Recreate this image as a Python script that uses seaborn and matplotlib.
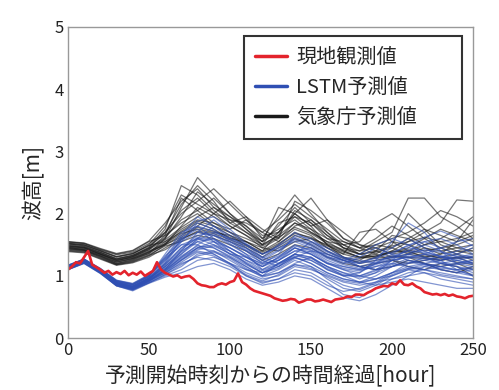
import matplotlib
matplotlib.use("Agg")
import matplotlib.pyplot as plt
from matplotlib.lines import Line2D
import numpy as np
import pandas as pd
import seaborn as sns

sns.set_theme(style="white")
plt.rcParams["font.family"] = ["Noto Sans CJK JP", "DejaVu Sans"]

# forecast grid (hours since forecast start)
hours = list(range(0, 251, 10))
obs_hours = [i * 2.5 for i in range(101)]

# observed wave height [m], every 2.5 h
observed = [1.10, 1.15, 1.22, 1.20, 1.30, 1.40, 1.18, 1.14, 1.10, 1.05,
            1.08, 1.02, 1.06, 1.03, 1.08, 1.01, 1.05, 1.02, 1.07, 1.00,
            1.04, 1.08, 1.22, 1.10, 1.05, 1.02, 0.99, 1.01, 0.97, 0.99,
            1.00, 0.95, 0.88, 0.85, 0.84, 0.82, 0.82, 0.86, 0.88, 0.86,
            0.90, 0.92, 1.04, 0.90, 0.86, 0.80, 0.76, 0.74, 0.72, 0.70,
            0.68, 0.64, 0.62, 0.60, 0.61, 0.63, 0.62, 0.57, 0.59, 0.62,
            0.62, 0.59, 0.60, 0.62, 0.60, 0.58, 0.62, 0.63, 0.64, 0.67,
            0.66, 0.70, 0.70, 0.69, 0.73, 0.76, 0.80, 0.82, 0.84, 0.83,
            0.88, 0.86, 0.93, 0.86, 0.85, 0.88, 0.83, 0.80, 0.74, 0.72,
            0.70, 0.71, 0.69, 0.71, 0.68, 0.70, 0.67, 0.66, 0.64, 0.67,
            0.68]

# JMA forecast runs
jma_runs = [
    [1.52, 1.48, 1.38, 1.28, 1.33, 1.46, 1.75, 2.45, 2.30, 2.05, 1.85, 1.70, 1.55, 1.80, 2.10, 1.85, 1.60, 1.45, 1.40, 1.55, 1.70, 2.25, 2.25, 1.95, 1.80, 1.60],
    [1.44, 1.42, 1.32, 1.20, 1.25, 1.36, 1.60, 2.10, 2.58, 2.30, 2.00, 1.80, 1.60, 1.95, 2.30, 2.00, 1.70, 1.50, 1.35, 1.30, 1.40, 1.55, 1.70, 1.85, 2.22, 2.20],
    [1.55, 1.52, 1.42, 1.34, 1.38, 1.52, 1.70, 2.00, 2.20, 2.40, 2.15, 1.90, 1.65, 1.70, 2.00, 2.25, 1.90, 1.60, 1.50, 1.45, 1.35, 1.40, 1.50, 1.55, 1.60, 1.70],
    [1.40, 1.38, 1.28, 1.18, 1.22, 1.32, 1.50, 1.80, 2.10, 1.95, 1.80, 1.65, 1.45, 1.60, 1.85, 1.70, 1.55, 1.40, 1.30, 1.35, 1.50, 2.00, 1.75, 1.50, 1.40, 1.35],
    [1.48, 1.46, 1.36, 1.25, 1.30, 1.42, 1.65, 2.25, 2.05, 1.85, 1.70, 1.55, 1.40, 1.70, 2.00, 1.80, 1.50, 1.30, 1.25, 1.40, 1.65, 1.60, 1.45, 1.35, 1.55, 1.90],
    [1.53, 1.50, 1.41, 1.31, 1.36, 1.49, 1.55, 1.75, 1.90, 1.85, 1.75, 1.90, 1.70, 1.55, 1.75, 1.65, 1.45, 1.35, 1.70, 1.75, 1.55, 1.40, 1.30, 1.25, 1.30, 1.30],
    [1.42, 1.40, 1.31, 1.20, 1.26, 1.38, 1.50, 1.65, 1.80, 2.00, 1.90, 1.70, 1.50, 1.85, 1.95, 1.75, 1.60, 1.55, 1.45, 1.35, 1.25, 1.20, 1.25, 1.30, 1.35, 1.25],
    [1.47, 1.45, 1.35, 1.24, 1.31, 1.44, 1.60, 1.95, 2.35, 2.15, 1.95, 1.75, 1.55, 2.10, 2.00, 1.80, 1.90, 1.70, 1.50, 1.40, 1.30, 1.35, 1.45, 1.40, 1.45, 1.50],
    [1.54, 1.52, 1.43, 1.35, 1.40, 1.55, 1.65, 1.85, 2.00, 1.80, 1.65, 1.50, 1.35, 1.50, 1.70, 1.60, 1.45, 1.30, 1.20, 1.25, 1.30, 1.30, 1.20, 1.15, 1.20, 1.10],
    [1.39, 1.37, 1.27, 1.17, 1.21, 1.30, 1.45, 1.60, 1.70, 1.65, 1.55, 1.45, 1.30, 1.45, 1.60, 1.50, 1.35, 1.25, 1.15, 1.20, 1.25, 1.15, 1.10, 1.20, 1.15, 1.00],
    [1.50, 1.47, 1.38, 1.27, 1.33, 1.45, 1.70, 2.15, 2.45, 2.20, 1.85, 1.95, 1.75, 1.60, 2.20, 2.05, 1.85, 1.60, 1.45, 1.60, 1.80, 1.65, 1.50, 1.60, 1.75, 1.95],
    [1.45, 1.43, 1.33, 1.22, 1.28, 1.38, 1.55, 1.70, 1.85, 1.75, 1.60, 1.55, 1.40, 1.55, 1.80, 1.90, 1.65, 1.45, 1.35, 1.50, 1.45, 1.35, 1.30, 1.35, 1.40, 1.40],
    [1.51, 1.49, 1.40, 1.30, 1.35, 1.50, 1.80, 2.30, 2.15, 2.00, 2.20, 1.95, 1.60, 1.75, 1.90, 1.70, 1.55, 1.50, 1.55, 1.85, 2.00, 1.80, 1.60, 1.45, 1.35, 1.45],
    [1.46, 1.44, 1.35, 1.25, 1.29, 1.40, 1.52, 1.68, 1.75, 1.70, 1.65, 1.55, 1.45, 1.40, 1.55, 1.60, 1.50, 1.40, 1.30, 1.28, 1.32, 1.30, 1.28, 1.25, 1.30, 1.20],
    [1.43, 1.41, 1.30, 1.19, 1.24, 1.34, 1.48, 1.55, 1.65, 1.60, 1.50, 1.40, 1.25, 1.35, 1.50, 1.45, 1.30, 1.20, 1.15, 1.10, 1.15, 1.25, 1.20, 1.10, 1.05, 1.15],
    [1.49, 1.46, 1.37, 1.27, 1.32, 1.44, 1.62, 1.90, 2.05, 2.25, 2.00, 1.75, 1.50, 1.65, 1.85, 1.75, 1.50, 1.35, 1.28, 1.32, 1.38, 1.45, 1.60, 1.75, 1.65, 1.55],
    [1.41, 1.39, 1.29, 1.18, 1.23, 1.33, 1.42, 1.58, 1.72, 1.68, 1.58, 1.48, 1.35, 1.48, 1.65, 1.55, 1.40, 1.28, 1.22, 1.30, 1.38, 1.42, 1.35, 1.28, 1.22, 1.18],
    [1.55, 1.53, 1.44, 1.36, 1.41, 1.56, 1.85, 2.20, 2.40, 2.10, 1.90, 1.85, 1.70, 1.90, 2.15, 1.95, 1.75, 1.55, 1.45, 1.50, 1.60, 1.70, 1.85, 2.05, 1.95, 1.80],
    [1.48, 1.45, 1.35, 1.26, 1.31, 1.42, 1.58, 1.78, 1.95, 2.10, 1.95, 1.80, 1.55, 1.70, 1.95, 1.85, 1.65, 1.50, 1.40, 1.45, 1.55, 1.50, 1.40, 1.45, 1.50, 1.60],
    [1.44, 1.41, 1.32, 1.22, 1.27, 1.36, 1.52, 1.72, 1.88, 1.80, 1.70, 1.60, 1.48, 1.62, 1.78, 1.68, 1.52, 1.42, 1.35, 1.40, 1.48, 1.55, 1.62, 1.55, 1.45, 1.40],
    [1.52, 1.50, 1.40, 1.31, 1.36, 1.48, 1.68, 2.05, 2.25, 2.00, 1.80, 1.65, 1.50, 1.65, 2.05, 1.90, 1.70, 1.45, 1.35, 1.38, 1.45, 1.60, 1.75, 1.65, 1.55, 1.65],
    [1.46, 1.42, 1.34, 1.23, 1.28, 1.39, 1.50, 1.62, 1.78, 1.72, 1.62, 1.50, 1.38, 1.52, 1.68, 1.62, 1.48, 1.38, 1.30, 1.32, 1.40, 1.38, 1.32, 1.30, 1.28, 1.30],
]

# LSTM forecast runs
lstm_runs = [
    [1.14, 1.24, 1.08, 0.88, 0.82, 0.95, 1.20, 1.55, 1.85, 1.75, 1.55, 1.40, 1.25, 1.40, 1.60, 1.50, 1.35, 1.25, 1.20, 1.30, 1.45, 1.60, 1.45, 1.30, 1.25, 1.30],
    [1.11, 1.21, 1.05, 0.85, 0.78, 0.91, 1.10, 1.40, 1.70, 1.90, 1.70, 1.50, 1.30, 1.20, 1.35, 1.55, 1.45, 1.30, 1.15, 1.10, 1.20, 1.35, 1.50, 1.40, 1.30, 1.20],
    [1.16, 1.26, 1.11, 0.92, 0.86, 0.99, 1.25, 1.50, 1.60, 1.50, 1.35, 1.20, 1.05, 1.15, 1.30, 1.20, 1.05, 0.95, 0.90, 1.00, 1.15, 1.25, 1.20, 1.10, 1.05, 1.10],
    [1.12, 1.23, 1.07, 0.87, 0.80, 0.93, 1.05, 1.25, 1.45, 1.55, 1.45, 1.30, 1.15, 1.30, 1.45, 1.35, 1.20, 1.10, 1.05, 1.25, 1.55, 1.85, 1.70, 1.40, 1.20, 1.15],
    [1.17, 1.27, 1.12, 0.93, 0.88, 1.02, 1.30, 1.65, 1.95, 1.80, 1.60, 1.45, 1.30, 1.50, 1.70, 1.55, 1.40, 1.30, 1.25, 1.20, 1.25, 1.30, 1.35, 1.45, 1.55, 1.60],
    [1.10, 1.20, 1.04, 0.84, 0.77, 0.89, 1.00, 1.10, 1.25, 1.30, 1.20, 1.05, 0.95, 1.00, 1.15, 1.10, 1.00, 0.90, 0.85, 0.90, 0.95, 1.00, 1.05, 1.00, 0.95, 0.90],
    [1.14, 1.25, 1.09, 0.89, 0.83, 0.96, 1.15, 1.35, 1.55, 1.45, 1.30, 1.15, 1.00, 1.10, 1.25, 1.15, 0.95, 0.80, 0.75, 0.85, 1.00, 1.10, 1.05, 0.95, 0.90, 0.85],
    [1.12, 1.22, 1.06, 0.86, 0.80, 0.92, 1.08, 1.30, 1.50, 1.65, 1.55, 1.40, 1.20, 1.25, 1.40, 1.45, 1.30, 1.20, 1.30, 1.45, 1.35, 1.25, 1.20, 1.25, 1.30, 1.35],
    [1.16, 1.26, 1.10, 0.91, 0.85, 0.99, 1.35, 1.70, 1.80, 1.60, 1.40, 1.25, 1.15, 1.30, 1.50, 1.40, 1.25, 1.15, 1.10, 1.15, 1.20, 1.15, 1.10, 1.15, 1.20, 1.25],
    [1.10, 1.21, 1.05, 0.84, 0.78, 0.89, 1.02, 1.15, 1.35, 1.40, 1.30, 1.15, 1.00, 1.05, 1.20, 1.30, 1.15, 1.00, 0.90, 0.85, 0.90, 0.95, 0.90, 0.85, 0.80, 0.80],
    [1.14, 1.24, 1.08, 0.88, 0.82, 0.95, 1.18, 1.45, 1.65, 1.70, 1.60, 1.50, 1.35, 1.45, 1.55, 1.45, 1.30, 1.25, 1.35, 1.50, 1.60, 1.50, 1.35, 1.25, 1.35, 1.45],
    [1.17, 1.27, 1.11, 0.92, 0.87, 1.01, 1.28, 1.50, 1.50, 1.35, 1.20, 1.10, 1.00, 1.20, 1.35, 1.25, 1.10, 1.00, 1.05, 1.20, 1.30, 1.35, 1.30, 1.20, 1.15, 1.10],
    [1.12, 1.22, 1.06, 0.86, 0.79, 0.92, 1.07, 1.25, 1.40, 1.35, 1.20, 1.00, 0.90, 0.95, 1.10, 1.05, 0.90, 0.70, 0.65, 0.80, 0.95, 1.05, 1.10, 1.05, 1.00, 0.95],
    [1.15, 1.25, 1.09, 0.90, 0.84, 0.97, 1.22, 1.60, 1.75, 1.55, 1.35, 1.30, 1.20, 1.35, 1.65, 1.60, 1.40, 1.25, 1.20, 1.25, 1.30, 1.40, 1.55, 1.60, 1.50, 1.35],
    [1.11, 1.22, 1.06, 0.85, 0.79, 0.91, 1.05, 1.20, 1.30, 1.25, 1.15, 1.00, 0.88, 0.95, 1.05, 1.00, 0.85, 0.75, 0.80, 0.90, 1.05, 1.20, 1.30, 1.25, 1.10, 1.00],
    [1.14, 1.24, 1.08, 0.88, 0.82, 0.96, 1.12, 1.35, 1.60, 1.80, 1.65, 1.45, 1.25, 1.15, 1.30, 1.40, 1.35, 1.25, 1.15, 1.10, 1.15, 1.20, 1.25, 1.30, 1.40, 1.50],
    [1.13, 1.23, 1.07, 0.87, 0.81, 0.94, 1.10, 1.28, 1.45, 1.50, 1.40, 1.25, 1.10, 1.20, 1.35, 1.30, 1.15, 1.05, 0.95, 1.05, 1.25, 1.45, 1.40, 1.30, 1.20, 1.25],
    [1.16, 1.26, 1.10, 0.91, 0.86, 0.99, 1.32, 1.55, 1.70, 1.65, 1.50, 1.35, 1.10, 1.25, 1.45, 1.35, 1.20, 1.10, 1.00, 0.95, 1.05, 1.15, 1.20, 1.15, 1.10, 1.15],
    [1.10, 1.20, 1.04, 0.84, 0.76, 0.88, 0.98, 1.05, 1.15, 1.20, 1.10, 0.95, 0.85, 0.90, 1.00, 0.95, 0.80, 0.65, 0.60, 0.70, 0.85, 1.00, 1.15, 1.20, 1.15, 1.05],
    [1.14, 1.24, 1.08, 0.89, 0.83, 0.95, 1.15, 1.40, 1.55, 1.60, 1.45, 1.30, 1.15, 1.25, 1.40, 1.35, 1.20, 1.15, 1.10, 1.20, 1.35, 1.50, 1.55, 1.45, 1.35, 1.30],
    [1.13, 1.23, 1.07, 0.87, 0.80, 0.93, 1.10, 1.30, 1.45, 1.40, 1.25, 1.10, 1.05, 1.20, 1.30, 1.20, 1.05, 0.95, 0.90, 0.95, 1.00, 1.10, 1.15, 1.10, 1.05, 1.00],
    [1.15, 1.26, 1.10, 0.90, 0.84, 0.97, 1.20, 1.45, 1.60, 1.55, 1.40, 1.20, 1.05, 1.15, 1.35, 1.30, 1.10, 1.00, 1.00, 1.10, 1.25, 1.30, 1.25, 1.20, 1.25, 1.20],
    [1.17, 1.27, 1.12, 0.93, 0.87, 1.01, 1.25, 1.58, 1.80, 1.72, 1.58, 1.42, 1.28, 1.42, 1.58, 1.48, 1.32, 1.22, 1.15, 1.22, 1.32, 1.40, 1.38, 1.32, 1.28, 1.32],
    [1.10, 1.21, 1.05, 0.85, 0.78, 0.89, 1.02, 1.18, 1.32, 1.38, 1.28, 1.12, 0.98, 1.05, 1.18, 1.15, 1.02, 0.92, 0.88, 0.95, 1.05, 1.12, 1.10, 1.02, 0.98, 0.95],
    [1.14, 1.24, 1.08, 0.88, 0.82, 0.95, 1.15, 1.38, 1.58, 1.68, 1.52, 1.35, 1.22, 1.32, 1.48, 1.42, 1.28, 1.18, 1.12, 1.18, 1.28, 1.35, 1.42, 1.38, 1.32, 1.28],
    [1.13, 1.23, 1.07, 0.87, 0.81, 0.94, 1.12, 1.32, 1.48, 1.45, 1.32, 1.18, 1.05, 1.12, 1.28, 1.25, 1.12, 1.02, 0.98, 1.05, 1.15, 1.22, 1.18, 1.12, 1.10, 1.12],
    [1.16, 1.26, 1.10, 0.91, 0.86, 1.00, 1.28, 1.62, 1.88, 1.95, 1.75, 1.52, 1.35, 1.48, 1.62, 1.52, 1.38, 1.28, 1.22, 1.28, 1.38, 1.48, 1.62, 1.72, 1.62, 1.48],
    [1.12, 1.22, 1.06, 0.86, 0.79, 0.91, 1.04, 1.22, 1.38, 1.32, 1.18, 1.02, 0.92, 1.02, 1.18, 1.12, 0.98, 0.85, 0.78, 0.88, 1.02, 1.12, 1.18, 1.15, 1.08, 1.02],
    [1.15, 1.25, 1.09, 0.89, 0.83, 0.97, 1.18, 1.42, 1.62, 1.58, 1.45, 1.32, 1.18, 1.28, 1.45, 1.38, 1.22, 1.12, 1.08, 1.15, 1.25, 1.32, 1.28, 1.22, 1.18, 1.22],
    [1.13, 1.24, 1.08, 0.88, 0.82, 0.94, 1.08, 1.26, 1.42, 1.48, 1.36, 1.22, 1.08, 1.18, 1.32, 1.28, 1.15, 1.05, 1.00, 1.08, 1.18, 1.28, 1.35, 1.32, 1.25, 1.18],
]

labels = ["現地観測値", "LSTM予測値", "気象庁予測値"]
c_obs, c_lstm, c_jma = "#e3232c", "#2f4fb3", "#1a1a1a"


def to_long(runs):
    rows = []
    for i, run in enumerate(runs):
        for h, v in zip(hours, run):
            rows.append({"hour": h, "height": v, "run": i})
    return pd.DataFrame(rows)


df_jma = to_long(jma_runs)
df_lstm = to_long(lstm_runs)
df_obs = pd.DataFrame({"hour": obs_hours, "height": observed})

fig = plt.figure(figsize=(4.99, 3.90), dpi=100)
ax = fig.add_axes([0.136, 0.133, 0.812, 0.798])

sns.lineplot(data=df_jma, x="hour", y="height", units="run", estimator=None,
             color=c_jma, alpha=0.6, linewidth=0.9, ax=ax, legend=False)
sns.lineplot(data=df_lstm, x="hour", y="height", units="run", estimator=None,
             color=c_lstm, alpha=0.6, linewidth=0.9, ax=ax, legend=False)
sns.lineplot(data=df_obs, x="hour", y="height", color=c_obs, linewidth=1.9,
             ax=ax, legend=False)

ax.set_xlim(0, 250)
ax.set_ylim(0, 5)
ax.set_xticks([0, 50, 100, 150, 200, 250])
ax.set_yticks([0, 1, 2, 3, 4, 5])
ax.tick_params(direction="in", length=3, width=0.8, color="#999999",
               labelsize=12, labelcolor="#222222", pad=3)
for s in ax.spines.values():
    s.set_color("#999999")
    s.set_linewidth(1.0)
ax.set_xlabel("予測開始時刻からの時間経過[hour]", fontsize=15, labelpad=4)
ax.set_ylabel("波高[m]", fontsize=15, labelpad=7)

# legend box spans a fixed region, entries left-aligned inside it
handles = [Line2D([], [], color=c, linewidth=2.5) for c in (c_obs, c_lstm, c_jma)]
leg = ax.legend(handles, labels, loc="upper left",
                bbox_to_anchor=(0.435, 0.643, 0.538, 0.328), mode="expand",
                fontsize=14.5, frameon=True, fancybox=False, handlelength=1.6,
                borderpad=0.55, labelspacing=0.45, handletextpad=0.45,
                borderaxespad=0)
leg.get_frame().set_edgecolor("black")
leg.get_frame().set_linewidth(1.5)

fig.savefig("out.png", dpi=100)
